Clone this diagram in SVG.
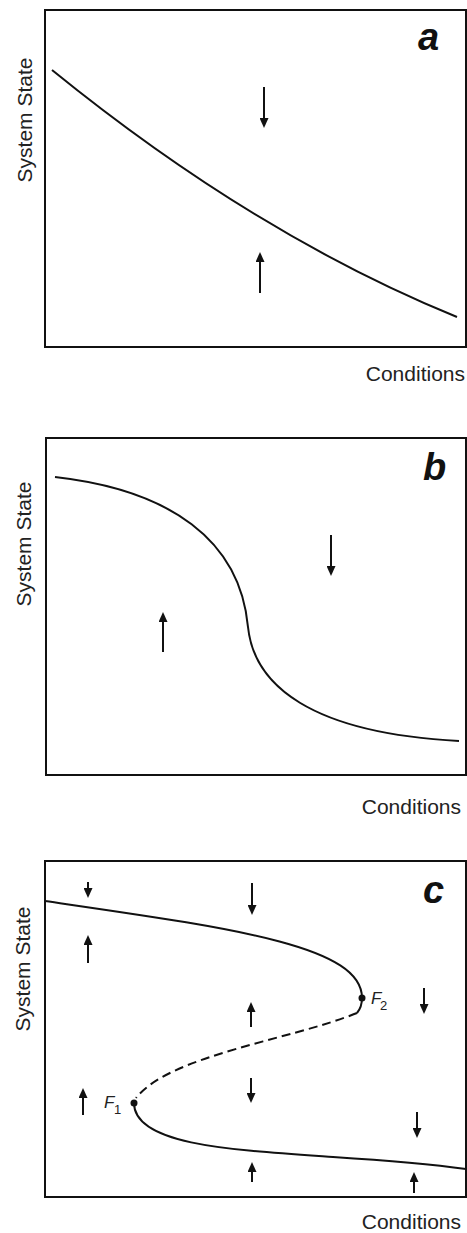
<svg xmlns="http://www.w3.org/2000/svg" width="467" height="1233" viewBox="0 0 467 1233">
<style>
.box{fill:none;stroke:#111;stroke-width:2}
.crv{fill:none;stroke:#111;stroke-width:2}
.dash{fill:none;stroke:#111;stroke-width:2;stroke-dasharray:9,5}
.arr{stroke:#111;stroke-width:2;marker-end:url(#ah)}
.ax{font-family:"Liberation Sans",Arial,sans-serif;font-size:21px;fill:#222}
.lbl{font-family:"Liberation Sans",Arial,sans-serif;font-size:38px;font-weight:bold;font-style:italic;fill:#111}
.f{font-family:"Liberation Sans",Arial,sans-serif;font-size:17px;font-style:italic;fill:#222}
.sub{font-family:"Liberation Sans",Arial,sans-serif;font-size:13px;fill:#222}
</style>
<defs>
<marker id="ah" markerWidth="10" markerHeight="9" refX="7" refY="4.5" orient="auto" markerUnits="userSpaceOnUse">
<path d="M0,0 L10,4.5 L0,9 z" fill="#111"/>
</marker>
</defs>
<rect width="467" height="1233" fill="#fff"/>

<g id="panel-a">
<rect class="box" x="45" y="10" width="421" height="337"/>
<text class="lbl" x="418" y="50">a</text>
<text class="ax" transform="translate(32,120) rotate(-90)" text-anchor="middle">System State</text>
<text class="ax" x="465" y="381" text-anchor="end">Conditions</text>
</g>
<g id="panel-b">
<rect class="box" x="46" y="438" width="420" height="337"/>
<text class="lbl" x="423" y="480">b</text>
<text class="ax" transform="translate(31,544) rotate(-90)" text-anchor="middle">System State</text>
<text class="ax" x="461" y="814" text-anchor="end">Conditions</text>
</g>
<g id="panel-c">
<rect class="box" x="45" y="861" width="421" height="336"/>
<text class="lbl" x="423" y="903">c</text>
<text class="ax" transform="translate(30,969) rotate(-90)" text-anchor="middle">System State</text>
<text class="ax" x="461" y="1229" text-anchor="end">Conditions</text>
</g>
<g id="F2">
<circle cx="362" cy="998" r="3.5" fill="#111"/>
<text class="f" x="371" y="1004">F</text>
<text class="sub" x="380" y="1010">2</text>
</g>
<g id="F1">
<circle cx="134" cy="1103" r="3.5" fill="#111"/>
<text class="f" x="104" y="1108">F</text>
<text class="sub" x="114" y="1114">1</text>
</g>

<g id="connectors">
<path class="crv" d="M52,70 Q254.5,234.5 457,317"/>
<line class="arr" x1="264" y1="87" x2="264" y2="125"/>
<line class="arr" x1="260" y1="293" x2="260" y2="255"/>

<path class="crv" d="M55,477 C170,490 240,540 248,627 C254,685 310,733 459,741"/>
<line class="arr" x1="331" y1="535" x2="331" y2="573"/>
<line class="arr" x1="163" y1="652" x2="163" y2="615"/>

<path class="crv" d="M45,901 C230,928 362,945 362,998 Q362,1007 357,1013"/>
<path class="dash" d="M357,1013 C290,1040 170,1055 136,1098"/>
<path class="crv" d="M134,1103 C134,1145 230,1150 333,1157 C380,1160 430,1164 466,1169"/>
<line class="arr" x1="88" y1="882" x2="88" y2="895"/>
<line class="arr" x1="88" y1="963" x2="88" y2="938"/>
<line class="arr" x1="252" y1="883" x2="252" y2="912"/>
<line class="arr" x1="251" y1="1027" x2="251" y2="1005"/>
<line class="arr" x1="424" y1="988" x2="424" y2="1011"/>
<line class="arr" x1="83" y1="1115" x2="83" y2="1091"/>
<line class="arr" x1="251" y1="1078" x2="251" y2="1100"/>
<line class="arr" x1="417" y1="1112" x2="417" y2="1135"/>
<line class="arr" x1="252" y1="1182" x2="252" y2="1165"/>
<line class="arr" x1="414" y1="1193" x2="414" y2="1175"/>
</g>
</svg>
